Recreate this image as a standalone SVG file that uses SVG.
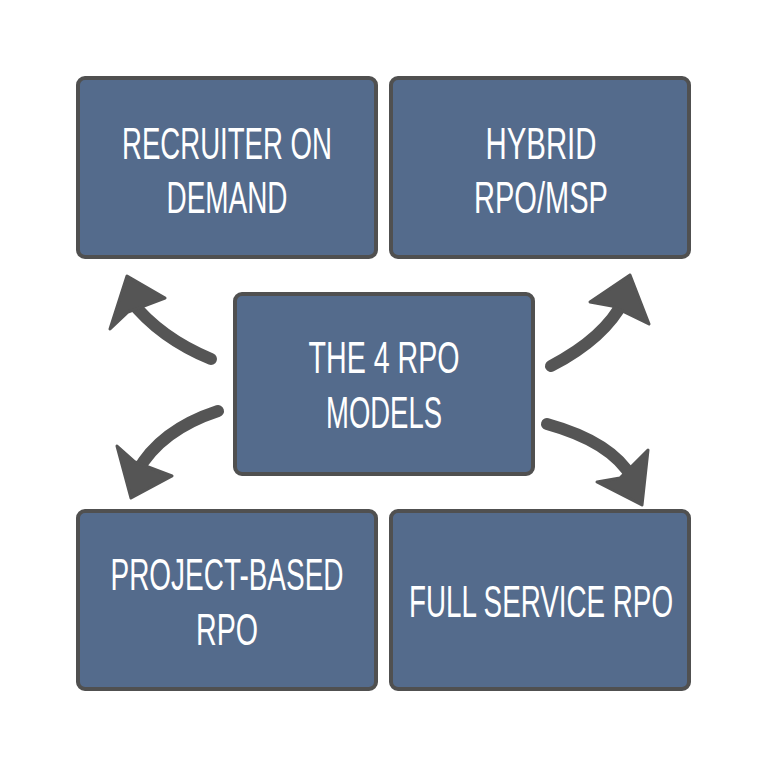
<svg xmlns="http://www.w3.org/2000/svg" width="768" height="768" viewBox="0 0 768 768">
<style>
.box{fill:#546b8c;stroke:#505050;stroke-width:4}
.t{fill:#fff;font-family:"Liberation Sans","DejaVu Sans",sans-serif;font-size:44px;text-anchor:middle}
.shaft{fill:none;stroke:#555;stroke-width:12;stroke-linecap:round}
.head{fill:#555;stroke:#555;stroke-width:3;stroke-linejoin:round}
</style>
<rect width="768" height="768" fill="#fff"/>
<g id="recruiter">
<rect class="box" x="78" y="78" width="298" height="179" rx="7"/>
<text class="t" x="227" y="159" textLength="210" lengthAdjust="spacingAndGlyphs">RECRUITER ON</text>
<text class="t" x="227" y="213" textLength="121" lengthAdjust="spacingAndGlyphs">DEMAND</text>
</g>
<g id="hybrid">
<rect class="box" x="391" y="78" width="298" height="179" rx="7"/>
<text class="t" x="541" y="159" textLength="111" lengthAdjust="spacingAndGlyphs">HYBRID</text>
<text class="t" x="541" y="213" textLength="134" lengthAdjust="spacingAndGlyphs">RPO/MSP</text>
</g>
<g id="center">
<rect class="box" x="235" y="294" width="298" height="180" rx="7"/>
<text class="t" x="384" y="373" textLength="151" lengthAdjust="spacingAndGlyphs">THE 4 RPO</text>
<text class="t" x="384" y="428" textLength="116" lengthAdjust="spacingAndGlyphs">MODELS</text>
</g>
<g id="project">
<rect class="box" x="78" y="511" width="298" height="178" rx="7"/>
<text class="t" x="227" y="590" textLength="233" lengthAdjust="spacingAndGlyphs">PROJECT-BASED</text>
<text class="t" x="227" y="645" textLength="62" lengthAdjust="spacingAndGlyphs">RPO</text>
</g>
<g id="full">
<rect class="box" x="391" y="511" width="298" height="178" rx="7"/>
<text class="t" x="541" y="617" textLength="264" lengthAdjust="spacingAndGlyphs">FULL SERVICE RPO</text>
</g>
<g id="connectors">
<path class="shaft" d="M211,359 Q160,338 130,300"/>
<path class="head" d="M127,276 L110,329 L128,312 L165,298 Z"/>
<path class="shaft" d="M551,366 Q605,338 624,300"/>
<path class="head" d="M630,275 L590,302 L612,306 L649,324 Z"/>
<path class="shaft" d="M218,411 Q160,430 137,472"/>
<path class="head" d="M131,498 L117,446 L135,462 L172,476 Z"/>
<path class="shaft" d="M547,424 Q612,442 632,478"/>
<path class="head" d="M642,505 L597,482 L620,478 L648,450 Z"/>
</g>
</svg>
